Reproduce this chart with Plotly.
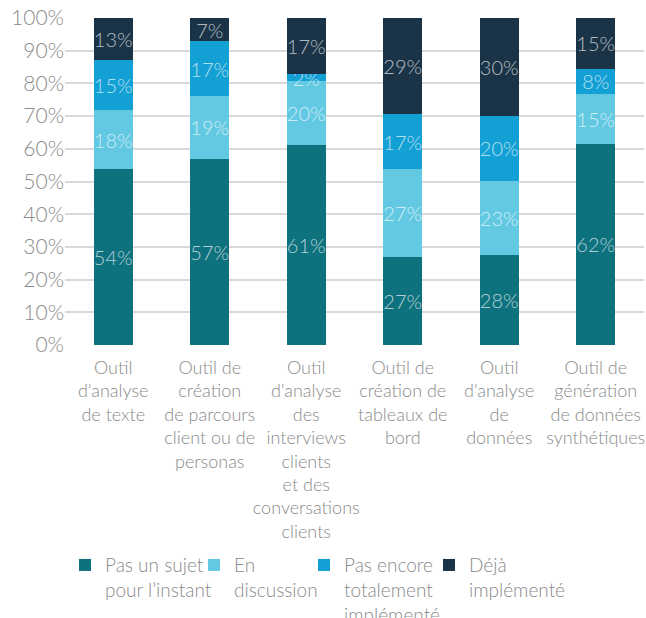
import plotly.graph_objects as go

categories = [
    "Outil<br>d'analyse<br>de texte",
    "Outil de<br>création<br>de parcours<br>client ou de<br>personas",
    "Outil<br>d'analyse<br>des<br>interviews<br>clients<br>et des<br>conversations<br>clients",
    "Outil de<br>création de<br>tableaux de<br>bord",
    "Outil<br>d'analyse<br>de<br>données",
    "Outil de<br>génération<br>de données<br>synthétiques",
]

series_names = [
    "Pas un sujet<br>pour l’instant",
    "En<br>discussion",
    "Pas encore<br>totalement<br>implémenté",
    "Déjà<br>implémenté",
]

pas_un_sujet = [53.7, 57.0, 61.1, 26.9, 27.5, 61.5]
en_discussion = [18.2, 19.2, 19.5, 26.8, 22.6, 15.3]
pas_encore = [15.2, 16.7, 2.3, 16.9, 20.0, 7.7]
deja = [12.9, 7.1, 17.1, 29.4, 29.9, 15.5]

labels_pas_un_sujet = ["54%", "57%", "61%", "27%", "28%", "62%"]
labels_en_discussion = ["18%", "19%", "20%", "27%", "23%", "15%"]
labels_pas_encore = ["15%", "17%", "2%", "17%", "20%", "8%"]
labels_deja = ["13%", "7%", "17%", "29%", "30%", "15%"]

y_ticks = [0, 10, 20, 30, 40, 50, 60, 70, 80, 90, 100]
y_tick_labels = [f"{v}%" for v in y_ticks]

colors = ["#0e717e", "#63c9e2", "#12a0d5", "#1a3347"]
legend_widths = [84, 65, 80, 100]

FONT = "Lato"
series = [pas_un_sujet, en_discussion, pas_encore, deja]
labels = [labels_pas_un_sujet, labels_en_discussion, labels_pas_encore, labels_deja]

fig = go.Figure()
for name, vals, labs, col, lw in zip(series_names, series, labels, colors, legend_widths):
    fig.add_trace(go.Bar(
        name=name,
        x=categories,
        y=vals,
        text=labs,
        textposition="inside",
        insidetextanchor="middle",
        constraintext="none",
        textangle=0,
        textfont=dict(family=FONT, size=20, color="rgba(255,255,255,0.68)", weight=300),
        marker=dict(color=col, line=dict(width=0)),
        legendwidth=lw,
        hoverinfo="skip",
    ))

fig.update_layout(
    barmode="stack",
    bargap=0.6,
    width=646,
    height=618,
    paper_bgcolor="white",
    plot_bgcolor="white",
    margin=dict(l=65, r=2, t=18, b=273, autoexpand=False),
    font=dict(family=FONT, color="#8a8a8a", weight=300),
    showlegend=True,
    legend=dict(
        orientation="h",
        x=0.0,
        y=-0.615,
        xanchor="left",
        yanchor="top",
        valign="top",
        traceorder="normal",
        font=dict(family=FONT, size=19, color="#8a8a8a", weight=300),
        itemwidth=30,
        tracegroupgap=0,
    ),
    xaxis=dict(
        showgrid=False,
        showline=False,
        ticks="",
        ticklabelstandoff=10,
        tickfont=dict(family=FONT, size=18, color="#8a8a8a", weight=300),
        tickangle=0,
    ),
    yaxis=dict(
        range=[0, 100],
        tickvals=y_ticks,
        ticktext=y_tick_labels,
        showgrid=True,
        gridcolor="#d9d9d9",
        gridwidth=2,
        zeroline=False,
        showline=False,
        ticks="",
        tickfont=dict(family=FONT, size=21, color="#8a8a8a", weight=300),
    ),
)

fig.write_html("out.html")
